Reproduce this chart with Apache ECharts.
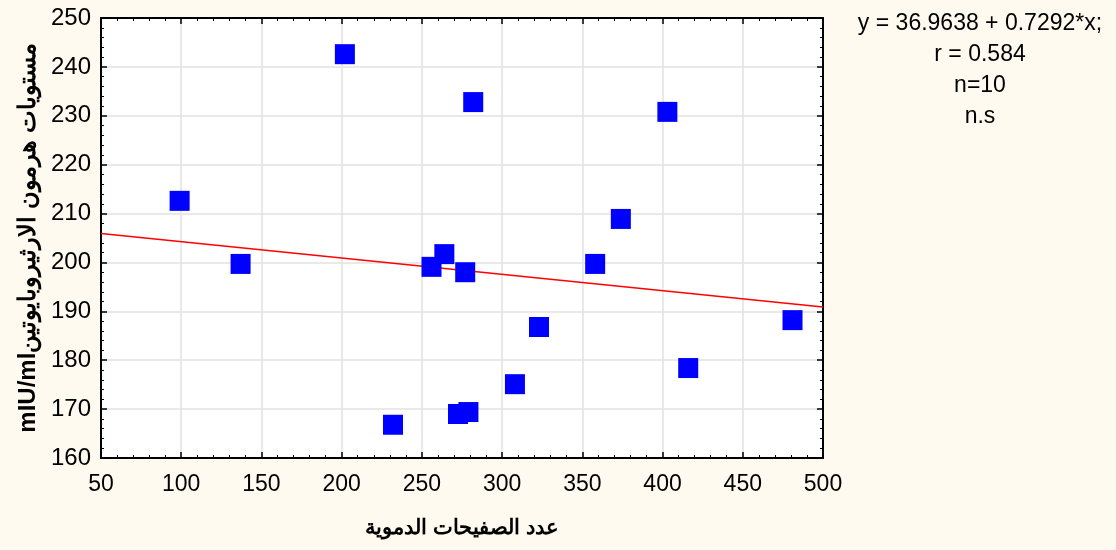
<!DOCTYPE html>
<html>
<head>
<meta charset="utf-8">
<script src="https://cdn.jsdelivr.net/npm/echarts@6/dist/echarts.min.js"></script>
<style>
  html, body { margin: 0; padding: 0; background: #fffaef; }
  #chart { width: 1116px; height: 550px; }
</style>
</head>
<body>
<div id="chart"></div>
<script>
// platelet count (x) vs erythropoietin level (y)
var plateletCount = [99, 137, 202, 232, 256, 264, 277, 272.5, 279, 282, 308, 323, 358, 374, 403, 416, 481];
var epoLevel = [212.6, 199.7, 242.6, 166.8, 199.1, 201.7, 198, 169, 169.4, 232.8, 175.1, 186.8, 199.7, 208.9, 230.8, 178.4, 188.2];
// fitted line, two ends
var fitX = [50, 500];
var fitY = [205.9, 190.9];
var statLines = ['y = 36.9638 + 0.7292*x;', 'r = 0.584', 'n=10', 'n.s'];

var xName = 'عدد الصفيحات الدموية';
var yName = 'mIU/mlمستويات هرمون الارثيروبايوتين';

var font = 'Liberation Sans, Arial, sans-serif';
var chart = echarts.init(document.getElementById('chart'));

var axisBase = {
  type: 'value',
  axisLine: { show: true, onZero: false, lineStyle: { color: '#000', width: 2 } },
  axisTick: { show: true, inside: true, length: 6, lineStyle: { color: '#000', width: 1.5 } },
  minorTick: { show: true, splitNumber: 5, length: 3, lineStyle: { color: '#000', width: 1 } }
};

var pts = plateletCount.map(function (x, i) { return [x, epoLevel[i]]; });
var fit = fitX.map(function (x, i) { return [x, fitY[i]]; });

chart.setOption({
  backgroundColor: '#fffaef',
  animation: false,
  grid: { left: 101, right: 293, top: 18, bottom: 92, backgroundColor: '#fff', show: true, borderWidth: 0 },
  xAxis: [
    Object.assign({}, axisBase, {
      min: 50, max: 500, interval: 50, position: 'bottom',
      name: xName, nameLocation: 'middle', nameGap: 60,
      nameTextStyle: { fontFamily: font, fontWeight: 'bold', fontSize: 21, color: '#000' },
      axisLabel: { fontFamily: font, fontSize: 23, color: '#000', margin: 15 },
      splitLine: { show: true, lineStyle: { color: '#e2e2e2', width: 1.5 } }
    }),
    Object.assign({}, axisBase, {
      min: 50, max: 500, interval: 50, position: 'top',
      axisLabel: { show: false }, splitLine: { show: false }
    })
  ],
  yAxis: [
    Object.assign({}, axisBase, {
      min: 160, max: 250, interval: 10, position: 'left',
      name: yName, nameLocation: 'middle', nameGap: 61, nameRotate: 90,
      nameTextStyle: { fontFamily: font, fontWeight: 'bold', fontSize: 24, color: '#000' },
      axisLabel: { fontFamily: font, fontSize: 24, color: '#000', margin: 10 },
      splitLine: { show: true, lineStyle: { color: '#e2e2e2', width: 1.5 } }
    }),
    Object.assign({}, axisBase, {
      min: 160, max: 250, interval: 10, position: 'right',
      axisLabel: { show: false }, splitLine: { show: false }
    })
  ],
  series: [
    {
      type: 'line', data: fit, symbol: 'none', silent: true, z: 3,
      lineStyle: { color: '#ff0000', width: 1.5 }
    },
    {
      type: 'scatter', data: pts, symbol: 'rect', symbolSize: 20, z: 4,
      itemStyle: { color: '#0000ff', opacity: 1 }
    }
  ],
  graphic: statLines.map(function (t, i) {
    return {
      type: 'text', x: 980, y: 24 + i * 31,
      style: { text: t, fill: '#000', font: '23px ' + font, textAlign: 'center', textVerticalAlign: 'middle' }
    };
  })
});
</script>
</body>
</html>
